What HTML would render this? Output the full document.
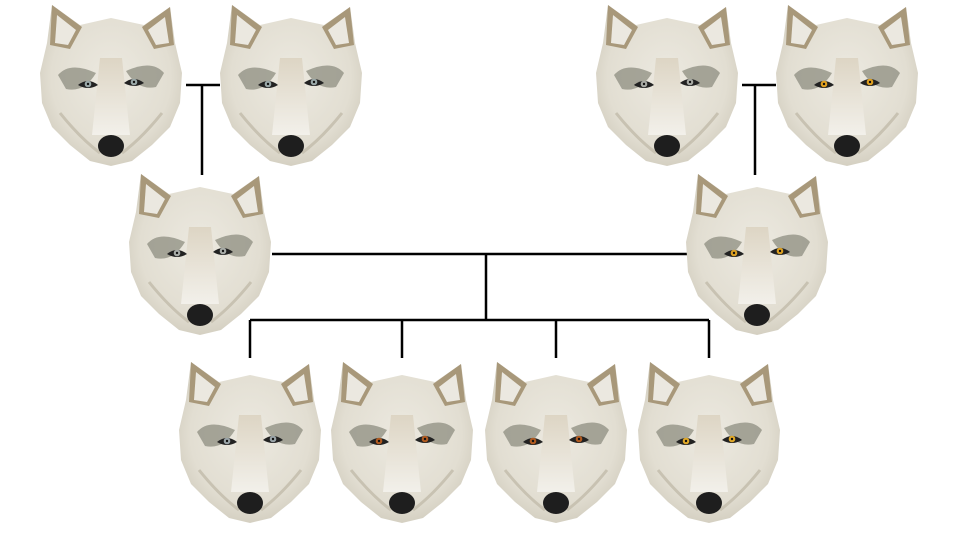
<!DOCTYPE html>
<html><head><meta charset="utf-8"><style>
html,body{margin:0;padding:0;background:#fff;}
svg{display:block;}
</style></head><body>
<svg width="960" height="540" viewBox="0 0 960 540">
<defs>
<radialGradient id="fur" cx="50%" cy="45%" r="60%">
<stop offset="0" stop-color="#ece9e0"/><stop offset="0.7" stop-color="#e2ded2"/><stop offset="1" stop-color="#cfcabb"/>
</radialGradient>
<linearGradient id="muz" x1="0" y1="0" x2="0" y2="1">
<stop offset="0" stop-color="#ddd5c4"/><stop offset="1" stop-color="#f2f0ea"/>
</linearGradient>
</defs>
<g id="lines" stroke="#000" stroke-width="2.5" fill="none">
<path d="M186 85H220M202 85V175"/>
<path d="M742 85H776M755 85V175"/>
<path d="M272 254H688M486 254V320M250 320H709M250 320V358M402 320V358M556 320V358M709 320V358"/>
</g>
<g id="wolves"></g>
</svg>
<script>
const wolfNames=['sire-grandfather-left','dam-grandmother-left','sire-grandfather-right','dam-grandmother-right','father-wolf','mother-wolf','pup-1','pup-2','pup-3','pup-4'];
const wolfCx=[111,291,667,847,200,757,250,402,556,709];
const wolfTop=[3,3,3,3,172,172,360,360,360,360];
const eyeColors=['#9aa8a8','#9aa8a8','#a8aaa4','#e0a020','#a8aca8','#dca022','#9aa4a8','#b05a20','#b05a20','#e0a828'];
const NS='http://www.w3.org/2000/svg';
const root=document.getElementById('wolves');
function wolfSVG(c){
return `
<path d="M12 2 L40 22 L71 15 L104 22 L130 4 L135 40 L142 70 L140 100 L130 124 L112 142 L92 158 L71 163 L50 158 L30 142 L12 124 L2 100 L0 70 L7 40 Z" fill="url(#fur)"/>
<path d="M12 2 L42 24 L30 46 L10 42 Z" fill="#a8987a"/>
<path d="M17 12 L36 27 L28 42 L15 40 Z" fill="#ebe8e0"/>
<path d="M130 4 L102 24 L114 46 L134 42 Z" fill="#a8987a"/>
<path d="M125 14 L108 27 L116 42 L129 40 Z" fill="#ebe8e0"/>
<path d="M18 72 Q30 58 56 70 Q44 90 26 86 Z" fill="#8e8e80" opacity="0.75"/>
<path d="M124 70 Q112 56 86 68 Q98 88 116 84 Z" fill="#8e8e80" opacity="0.75"/>
<path d="M60 55 L82 55 L90 132 L52 132 Z" fill="url(#muz)"/>
<path d="M38 82 Q48 74 58 82 Q48 88 38 82 Z" fill="#222"/>
<circle cx="48" cy="81" r="3.3" fill="${c}"/><circle cx="48" cy="81" r="1.2" fill="#111"/>
<path d="M84 80 Q94 72 104 80 Q94 86 84 80 Z" fill="#222"/>
<circle cx="94" cy="79" r="3.3" fill="${c}"/><circle cx="94" cy="79" r="1.2" fill="#111"/>
<path d="M20 110 Q40 135 60 150 M122 110 Q102 135 82 150" stroke="#c8c2b2" stroke-width="3" fill="none"/>
<ellipse cx="71" cy="143" rx="13" ry="11" fill="#1e1e1e"/>`;
}
for(let i=0;i<wolfCx.length;i++){
 const g=document.createElementNS(NS,'g');
 
 
 g.setAttribute('transform',`translate(${wolfCx[i]-71},${wolfTop[i]})`);
 g.innerHTML=wolfSVG(eyeColors[i]);
 root.appendChild(g);
}
</script>
</body></html>
